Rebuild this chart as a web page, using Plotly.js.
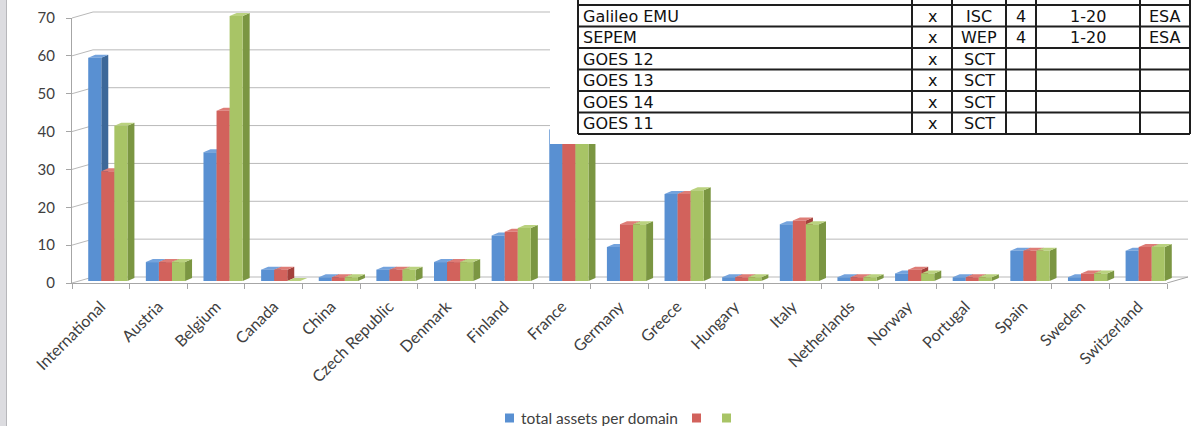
<!DOCTYPE html>
<html>
<head>
<meta charset="utf-8">
<script src="https://cdn.plot.ly/plotly-3.0.1.min.js"></script>
<style>
  html, body { margin: 0; padding: 0; background: #ffffff; overflow: hidden; }
  #chart { width: 1204px; height: 426px; }
</style>
</head>
<body>
<div id="chart"></div>
<script>
// ---- data ----
const countries = ['International', 'Austria', 'Belgium', 'Canada', 'China', 'Czech Republic',
  'Denmark', 'Finland', 'France', 'Germany', 'Greece', 'Hungary', 'Italy', 'Netherlands',
  'Norway', 'Portugal', 'Spain', 'Sweden', 'Switzerland'];
const assetsBlue  = [59, 5, 34, 3, 1, 3, 5, 12, 40, 9, 23, 1, 15, 1, 2, 1, 8, 1, 8];
const assetsRed   = [29, 5, 45, 3, 1, 3, 5, 13, 40, 15, 23, 1, 16, 1, 3, 1, 8, 2, 9];
const assetsGreen = [41, 5, 70, 0, 1, 3, 5, 14, 40, 15, 24, 1, 15, 1, 2, 1, 8, 2, 9];
const seriesNames = ['total assets per domain', '', ''];
const yTicks = [0, 10, 20, 30, 40, 50, 60, 70];

// mission table drawn over the top right of the chart
const tableRows = [
  ['', '', '', '', '', ''],
  ['Galileo EMU', 'x', 'ISC', '4', '1-20', 'ESA'],
  ['SEPEM', 'x', 'WEP', '4', '1-20', 'ESA'],
  ['GOES 12', 'x', 'SCT', '', '', ''],
  ['GOES 13', 'x', 'SCT', '', '', ''],
  ['GOES 14', 'x', 'SCT', '', '', ''],
  ['GOES 11', 'x', 'SCT', '', '', '']
];

// ---- geometry (page pixels; margins are zero so paper == page) ----
const W = 1204, H = 426;
const fx = px => px / W;
const fy = py => 1 - py / H;
const FRONT = { x0: 72, x1: 1167, y0: 283, yTop: 18 };
const Y_MAX = 70;
const ppu = (FRONT.y0 - FRONT.yTop) / Y_MAX;        // pixels per value unit
const BACK = { dx: 21, dy: 6 };                       // back wall offset
const BAR = { dx: 7, dy: 2 };                         // bar row offset
const DEPTH = { dx: 7, dy: 3 };                       // bar side/top depth
const catPx = (FRONT.x1 - FRONT.x0) / countries.length;
const BARGAP = 0.32;
const Y2_MAX = 73;

const frontCol = ['#5990d2', '#d2625c', '#a8c466'];
const sideCol  = ['#3d6899', '#a3413c', '#7b9642'];
const topCol   = ['#74a3dd', '#de7c76', '#bad27f'];
const series = [assetsBlue, assetsRed, assetsGreen];

const xIdx = countries.map((_, i) => i);

const traces = [];
// category trace carrying the front axis labels
traces.push({
  type: 'scatter', mode: 'none', x: countries, y: countries.map(() => 0),
  xaxis: 'x', yaxis: 'y', showlegend: false, hoverinfo: 'skip'
});
series.forEach((vals, s) => {
  traces.push({
    type: 'bar', x: xIdx, y: vals, name: seriesNames[s],
    xaxis: 'x2', yaxis: 'y2', showlegend: false,
    marker: { color: frontCol[s], line: { width: 0 } },
    hovertemplate: '%{y}<extra></extra>'
  });
});

// ---- shapes ----
const shapes = [];
const gridCol = '#b9b9b9';
const axisCol = '#a6a6a6';

// back wall + side wall gridlines
yTicks.forEach(v => {
  const yf = FRONT.y0 - v * ppu;
  shapes.push({
    type: 'path', xref: 'paper', yref: 'paper', layer: 'below',
    path: `M ${fx(FRONT.x0)},${fy(yf)} L ${fx(FRONT.x0 + BACK.dx)},${fy(yf - BACK.dy)} L ${fx(FRONT.x1 + BACK.dx)},${fy(yf - BACK.dy)}`,
    line: { color: gridCol, width: 1 }
  });
});
// right edge of the floor
shapes.push({
  type: 'path', xref: 'paper', yref: 'paper', layer: 'below',
  path: `M ${fx(FRONT.x1)},${fy(FRONT.y0)} L ${fx(FRONT.x1 + BACK.dx)},${fy(FRONT.y0 - BACK.dy)}`,
  line: { color: axisCol, width: 1 }
});

// bar sides and tops (the bar traces draw the front faces)
const groupW = 1 - BARGAP;
const bw = groupW / 3;
const ddx = DEPTH.dx / catPx;
const ddy = DEPTH.dy / ppu;
const sides = [], tops = [];
series.forEach((vals, s) => {
  vals.forEach((v, i) => {
    const left = i - groupW / 2 + s * bw;
    const right = left + bw;
    sides.push({
      type: 'path', xref: 'x2', yref: 'y2', layer: 'below',
      path: `M ${right},0 L ${right},${v} L ${right + ddx},${v + ddy} L ${right + ddx},${ddy} Z`,
      fillcolor: sideCol[s], line: { width: 0 }
    });
    tops.push({
      type: 'path', xref: 'x2', yref: 'y2', layer: 'below',
      path: `M ${left},${v} L ${right},${v} L ${right + ddx},${v + ddy} L ${left + ddx},${v + ddy} Z`,
      fillcolor: topCol[s], line: { width: 0 }
    });
  });
});
shapes.push(...sides, ...tops);

// white panel behind the table
shapes.push({
  type: 'rect', xref: 'paper', yref: 'paper', layer: 'above',
  x0: fx(550), x1: 1, y0: fy(144), y1: 1,
  fillcolor: '#ffffff', line: { width: 0 }
});

// table grid
const colEdges = [578, 912, 952, 1006, 1036, 1140, 1190];
const rowTop = -16.5, rowH = 21.5;
const tableLine = { color: '#1e1e1e', width: 2 };
const tableBottom = rowTop + rowH * tableRows.length;
for (let r = 1; r <= tableRows.length; r++) {
  const y = rowTop + r * rowH;
  shapes.push({
    type: 'line', xref: 'paper', yref: 'paper', layer: 'above',
    x0: fx(colEdges[0]), x1: fx(colEdges[colEdges.length - 1]), y0: fy(y), y1: fy(y),
    line: tableLine
  });
}
colEdges.forEach(x => {
  shapes.push({
    type: 'line', xref: 'paper', yref: 'paper', layer: 'above',
    x0: fx(x), x1: fx(x), y0: fy(0), y1: fy(tableBottom),
    line: tableLine
  });
});

// window frame strip on the left
shapes.push({
  type: 'rect', xref: 'paper', yref: 'paper', layer: 'above',
  x0: 0, x1: fx(6), y0: 0, y1: 1, fillcolor: '#dcdce0', line: { width: 0 }
});
shapes.push({
  type: 'line', xref: 'paper', yref: 'paper', layer: 'above',
  x0: fx(6.5), x1: fx(6.5), y0: 0, y1: 1, line: { color: '#b7b7bb', width: 1 }
});

// ---- table text ----
const annotations = [];
tableRows.forEach((row, r) => {
  const yc = rowTop + r * rowH + rowH / 2;
  row.forEach((txt, c) => {
    if (!txt) return;
    const first = c === 0;
    annotations.push({
      xref: 'paper', yref: 'paper', showarrow: false,
      x: first ? fx(colEdges[0] + 3) : fx((colEdges[c] + colEdges[c + 1]) / 2),
      y: fy(yc + 0.5),
      xanchor: first ? 'left' : 'center', yanchor: 'middle',
      text: txt,
      font: { family: 'DejaVu Sans, Verdana, sans-serif', size: 16, color: '#111111' }
    });
  });
});

const labelFont = { family: 'Lato, Carlito, sans-serif', size: 15, color: '#404040' };
const catFont = { family: 'Lato, Carlito, sans-serif', size: 16, color: '#404040' };

// ---- legend (swatches + labels along the bottom) ----
const legendSwatchX = [505, 692, 722];
const legendY = 418, sw = 9;
series.forEach((_, s) => {
  shapes.push({
    type: 'rect', xref: 'paper', yref: 'paper', layer: 'above',
    x0: fx(legendSwatchX[s]), x1: fx(legendSwatchX[s] + sw),
    y0: fy(legendY + sw / 2), y1: fy(legendY - sw / 2),
    fillcolor: frontCol[s], line: { width: 0 }
  });
  if (seriesNames[s]) {
    annotations.push({
      xref: 'paper', yref: 'paper', showarrow: false,
      x: fx(legendSwatchX[s] + sw + 5), y: fy(legendY),
      xanchor: 'left', yanchor: 'middle',
      text: seriesNames[s], font: { ...labelFont, size: 15.5 }
    });
  }
});

const layout = {
  width: W, height: H,
  margin: { l: 0, r: 0, t: 0, b: 0, pad: 0, autoexpand: false },
  paper_bgcolor: '#ffffff', plot_bgcolor: 'rgba(0,0,0,0)',
  barmode: 'group', bargap: BARGAP, bargroupgap: 0,
  showlegend: false,
  xaxis: {
    domain: [fx(FRONT.x0), fx(FRONT.x1)], type: 'category',
    categoryorder: 'array', categoryarray: countries,
    range: [-0.5, countries.length - 0.5],
    showgrid: false, zeroline: false, showline: true, linecolor: axisCol, linewidth: 1,
    ticks: 'outside', tickson: 'boundaries', ticklen: 5, tickcolor: axisCol,
    tickangle: -45, tickfont: catFont, ticklabelstandoff: 7,
    automargin: false, fixedrange: true
  },
  yaxis: {
    domain: [fy(FRONT.y0), fy(FRONT.yTop)], range: [0, Y_MAX],
    tickvals: yTicks, showgrid: false, zeroline: false,
    showline: true, linecolor: axisCol, linewidth: 1,
    ticks: 'outside', ticklen: 5, tickcolor: axisCol,
    tickfont: labelFont, ticklabelstandoff: 8, automargin: false, fixedrange: true
  },
  xaxis2: {
    domain: [fx(FRONT.x0 + BAR.dx), fx(FRONT.x1 + BAR.dx)],
    range: [-0.5, countries.length - 0.5], visible: false, fixedrange: true
  },
  yaxis2: {
    domain: [fy(FRONT.y0 - BAR.dy), fy(FRONT.y0 - BAR.dy - Y2_MAX * ppu)],
    range: [0, Y2_MAX], visible: false, fixedrange: true
  },
  shapes: shapes,
  annotations: annotations
};

Plotly.newPlot('chart', traces, layout, { displayModeBar: false, staticPlot: true });
</script>
</body>
</html>
